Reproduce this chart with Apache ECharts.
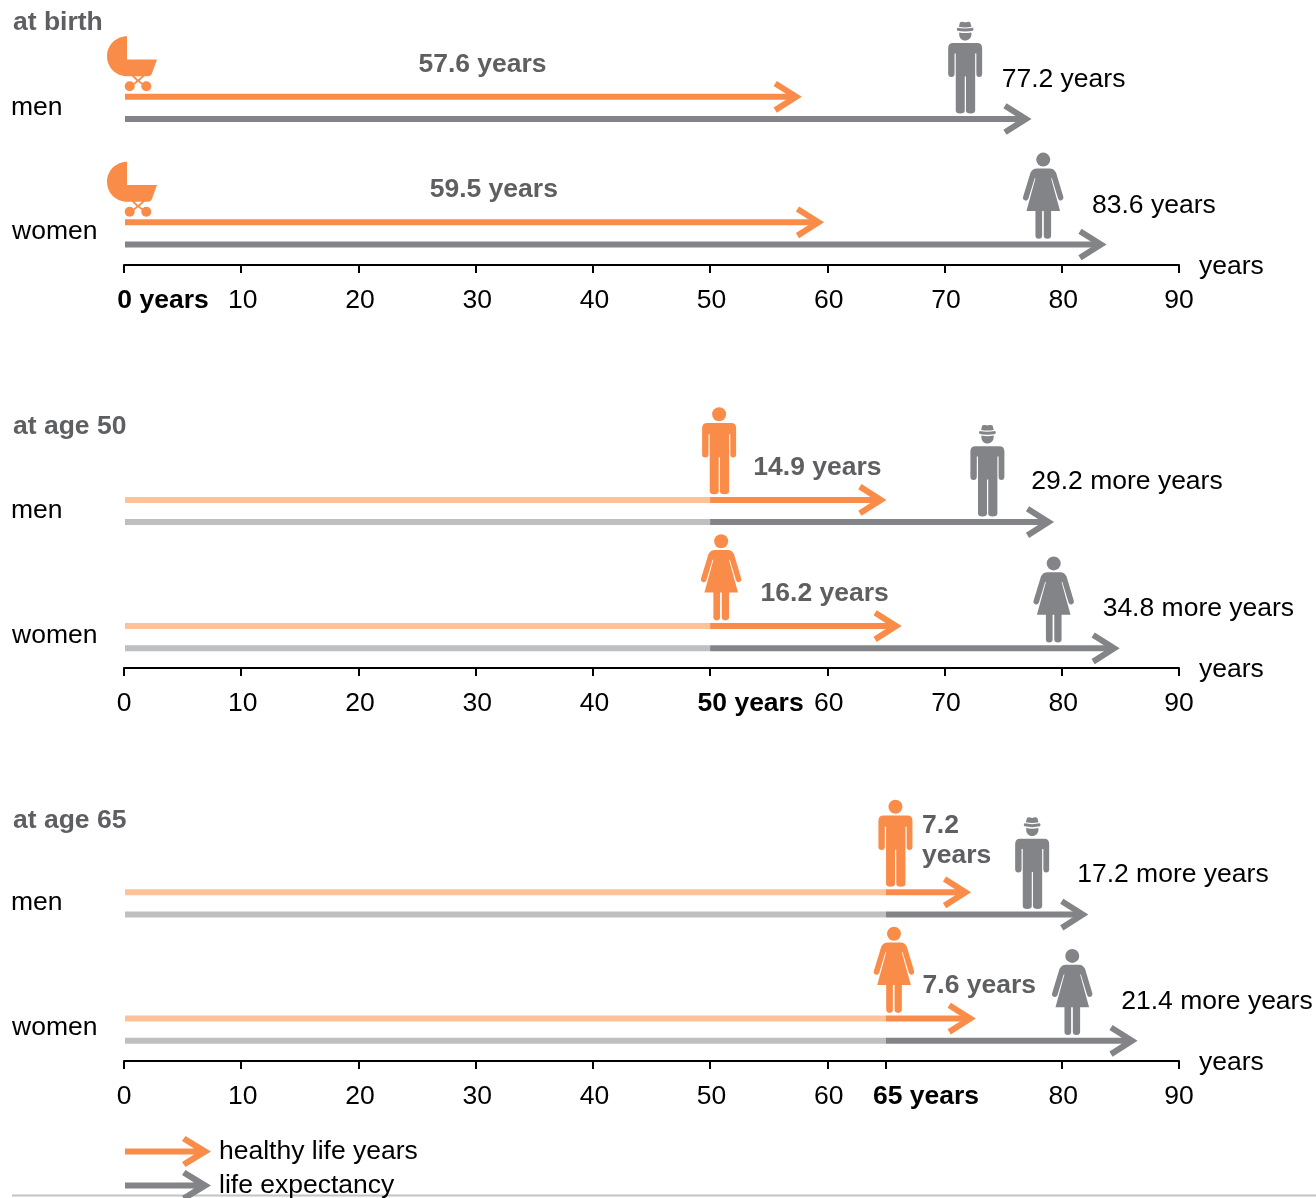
<!DOCTYPE html>
<html>
<head>
<meta charset="utf-8">
<style>html,body{margin:0;padding:0;background:#fff}#c{width:1316px;height:1198px}</style>
<script src="https://cdn.jsdelivr.net/npm/echarts@6/dist/echarts.min.js"></script>
</head>
<body>
<div id="c"></div>
<script>
// ---- data ----
const panelTitles = ['at birth', 'at age 50', 'at age 65'];
const startAges = [0, 50, 65];
const rowNames = ['women', 'men'];
const healthyMen = [57.6, 14.9, 7.2];
const healthyWomen = [59.5, 16.2, 7.6];
const expectancyMen = [77.2, 29.2, 17.2];
const expectancyWomen = [83.6, 34.8, 21.4];
const tickValues = [
  [0, 10, 20, 30, 40, 50, 60, 70, 80, 90],
  [0, 10, 20, 30, 40, 50, 60, 70, 80, 90],
  [0, 10, 20, 30, 40, 50, 60, 65, 80, 90]
];
const axisUnit = 'years';
const legendNames = ['healthy life years', 'life expectancy'];

// ---- style and layout ----
const FONT = '"Liberation Sans", Arial, sans-serif';
const FS = 26.5;
const ORANGE = '#fa8c4a', ORANGE_LIGHT = '#fdc297', GREY = '#838487', GREY_LIGHT = '#bebfc1';
const LABEL_GREY = '#5e5f61', INK = '#000000';
const axisYs = [265, 668, 1061];
const GRID_H = 251, ARROW_OFF = 11.1;
const rowStep = [125.5, 126.2, 126.25], rowBase = [31.6, 30.8, 31.3];
const titleAbove = [255.5, 255, 253.5];
const tipOffset = [2.5, 1.6, 0.7];
const boldPad = [78, 81, 80];
// text offsets from arrow end [dx, dy from row centre], indexed [panel][row]
const healthyText = [[[-391.8, -43.5], [-380.8, -43.5]], [[-139.4, -43.7], [-131.4, -43.3]], [[-52.5, -43.6], [-48.3, -62.7]]];
const lifeText = [[[-12, -28], [-27.3, -28.5]], [[-15.4, -28.7], [-21.2, -29.2]], [[-15.6, -28.2], [-10.4, -28.7]]];
// icon centre offsets: healthy from start of coloured part, life from arrow end
const healthyIconDx = [[8, 8], [11, 9], [8, 9.5]];
const lifeIconDx = [[-60.8, -63.8], [-64.4, -65], [-64.6, -55.4]];

const ICONS = {
  man: {
    w: 34, h: 87, circles: [[17, 7, 7]],
    body: { x: 0, y: 15.7, w: 34, h: 71.3, d: 'M5 15.7L29 15.7Q34 15.7 34 21L34 47.3Q34 50.3 31 50.3Q28.2 50.3 28.2 47.3L28.2 27L27 27L27 84Q27 87 22.4 87Q17.8 87 17.8 84L17.8 50L16.6 50L16.6 84Q16.6 87 12 87Q7.6 87 7.6 84L7.6 27L6.4 27L6.4 47.3Q6.4 50.3 3.2 50.3Q0 50.3 0 47.3L0 21Q0 15.7 5 15.7Z' }
  },
  hatMan: {
    w: 34, h: 92, circles: [],
    body: { x: 0, y: 0, w: 34, h: 92, d: 'M0 0L0.01 0L0 0ZM11.8 1Q13 0 15 0.6Q17 1.3 19 0.6Q21 0 22.2 1L23.3 5.4Q17 6.6 10.7 5.4ZM9.2 6.4Q17 8 24.8 6.4Q26 8 24.8 9.4Q17 11 9.2 9.4Q8 8 9.2 6.4ZM11 11Q17 12.4 23.3 11L23.3 12.5C23.3 16.5 20.5 19 17 19C13.5 19 11 16.5 11 12.5ZM5 21.7L29 21.7Q34 21.7 34 27L34 52Q34 55.5 31 55.5Q28.2 55.5 28.2 52L28.2 32L27 32L27 89Q27 92 22.4 92Q17.8 92 17.8 89L17.8 55L16.6 55L16.6 89Q16.6 92 12 92Q7.6 92 7.6 89L7.6 32L6.4 32L6.4 52Q6.4 55.5 3.2 55.5Q0 55.5 0 52L0 27Q0 21.7 5 21.7Z' }
  },
  woman: {
    w: 40.5, h: 86.3, circles: [[20.3, 7, 7]],
    body: { x: 0, y: 15.7, w: 40.5, h: 70.6, d: 'M14 15.7L26.7 15.7Q31 15.7 33 20L40.2 44Q41 47 38 48Q36 48.5 35 46L28.8 25.5L28 25.5L37 58.3L28 58.3L28 83Q28 86.3 24.3 86.3Q20.7 86.3 20.7 83L20.7 58.3L19 58.3L19 83Q19 86.3 15.6 86.3Q12.3 86.3 12.3 83L12.3 58.3L3.3 58.3L12.3 25.5L11.5 25.5L5.3 46Q4.3 48.5 2 48Q-1 47 0 44L7.3 20Q9.3 15.7 14 15.7Z' }
  },
  pram: {
    w: 50, h: 55, circles: [[22.7, 50, 5], [39.3, 50, 5]],
    body: { x: 0, y: 0, w: 50, h: 50, d: 'M20 0C8.95 0 0 8.95 0 20C0 31.05 8.95 40 20 40L41 40Q44 40 45 37L50 23.3L20 23.3ZM25 40L27.5 40L31 43.2L35 40L37.5 40L32.6 44.5L38 48.5L37 50L31 45.6L25.5 50L24.5 48.5L29.5 44.5Z' }
  }
};
const LEGEND_ARROW = 'path://M0 12.5L69 12.5L57 5L60.5 0L86 15.5L60.5 31L57 26L69 18.5L0 18.5Z';

function arrowRenderer(panel, offset, light, full) {
  return function (params, api) {
    const start = api.value(0), end = api.value(1), row = api.value(2);
    const y = api.coord([0, row])[1] + offset;
    const x0 = api.coord([0, row])[0] + 1;
    const xs = api.coord([start, row])[0];
    const tip = api.coord([end, row])[0] + tipOffset[panel];
    const vertex = tip - 5.5;
    const children = [];
    if (start > 0) {
      children.push({ type: 'line', shape: { x1: x0, y1: y, x2: xs, y2: y }, style: { stroke: light, lineWidth: 6, fill: null } });
    }
    children.push({ type: 'line', shape: { x1: start > 0 ? xs : x0, y1: y, x2: vertex, y2: y }, style: { stroke: full, lineWidth: 6, fill: null } });
    children.push({
      type: 'polyline',
      shape: { points: [[vertex - 21, y - 13.3], [vertex, y], [vertex - 21, y + 13.3]] },
      style: { stroke: full, lineWidth: 6, fill: null, lineJoin: 'miter', miterLimit: 10 }
    });
    return { type: 'group', children: children, silent: true };
  };
}

function iconEls(name, cx, bottom, color) {
  const ic = ICONS[name];
  const left = cx - ic.w / 2, top = bottom - ic.h;
  const els = ic.circles.map(function (c) {
    return { type: 'circle', shape: { cx: left + c[0], cy: top + c[1], r: c[2] }, style: { fill: color } };
  });
  const b = ic.body;
  els.push({ type: 'path', shape: { pathData: b.d, x: left + b.x, y: top + b.y, width: b.w, height: b.h }, style: { fill: color } });
  return els;
}

function decorationRenderer(panel, isHealthy) {
  return function (params, api) {
    const start = api.value(0), end = api.value(1), row = api.value(2), val = end - start;
    const c = api.coord([end, row]);
    const s = api.coord([start, row]);
    const arrowY = c[1] + (isHealthy ? -ARROW_OFF : ARROW_OFF);
    let name, cx, color;
    if (isHealthy) {
      name = panel === 0 ? 'pram' : (row === 1 ? 'man' : 'woman');
      cx = s[0] + healthyIconDx[panel][row];
      color = ORANGE;
    } else {
      name = row === 1 ? 'hatMan' : 'woman';
      cx = c[0] + lifeIconDx[panel][row];
      color = GREY;
    }
    const children = iconEls(name, cx, arrowY - 5.6, color);
    const off = (isHealthy ? healthyText : lifeText)[panel][row];
    let txt = val.toFixed(1) + (!isHealthy && panel > 0 ? ' more years' : ' years');
    if (isHealthy && panel === 2 && row === 1) txt = val.toFixed(1) + '\nyears';
    children.push({
      type: 'text', silent: true,
      style: {
        text: txt, x: c[0] + off[0], y: c[1] + off[1], align: 'left', verticalAlign: 'middle',
        fill: isHealthy ? LABEL_GREY : INK, font: (isHealthy ? 'bold ' : '') + FS + 'px ' + FONT, lineHeight: 30
      }
    });
    return { type: 'group', children: children, silent: true };
  };
}

const grids = [], xAxes = [], yAxes = [], titles = [], series = [];
panelTitles.forEach(function (title, p) {
  const start = startAges[p];
  grids.push({ left: 124, width: 1055, top: axisYs[p] - GRID_H, height: GRID_H });
  titles.push({
    text: title, left: 13, top: axisYs[p] - titleAbove[p], padding: 0,
    textStyle: { fontFamily: FONT, fontSize: FS, fontWeight: 'bold', color: LABEL_GREY }
  });
  xAxes.push({
    type: 'value', gridIndex: p, min: 0, max: 90, interval: 10, position: 'bottom',
    name: axisUnit, nameLocation: 'end', nameGap: 20, nameMoveOverlap: false,
    nameTextStyle: { fontFamily: FONT, fontSize: FS, color: INK, verticalAlign: 'top', lineHeight: 4 },
    axisLine: { show: true, onZero: false, lineStyle: { color: '#000', width: 2 } },
    axisTick: { show: true, length: 8, lineStyle: { color: '#000', width: 2 }, customValues: tickValues[p] },
    splitLine: { show: false },
    axisLabel: {
      customValues: tickValues[p], margin: 22.5, color: INK, fontFamily: FONT, fontSize: FS,
      formatter: function (v) {
        if (v === start) return '{b|' + v + ' years}';
        return (v === 0 || v === 90) ? String(v) : '{n|' + v + '}';
      },
      rich: {
        b: { fontFamily: FONT, fontSize: FS, fontWeight: 'bold', color: INK, padding: [0, 0, 0, boldPad[p]] },
        n: { fontFamily: FONT, fontSize: FS, color: INK, padding: [0, 0, 0, 3] }
      }
    }
  });
  yAxes.push({
    type: 'value', gridIndex: p,
    min: -rowBase[p] / rowStep[p], max: (GRID_H - rowBase[p]) / rowStep[p],
    axisLine: { show: false }, axisTick: { show: false }, splitLine: { show: false },
    axisLabel: {
      customValues: [0, 1], align: 'left', margin: 113, color: INK, fontFamily: FONT,
      formatter: function (v) { return v === 0 ? '{w|' + rowNames[0] + '}' : '{m|' + rowNames[1] + '}'; },
      rich: {
        w: { fontFamily: FONT, fontSize: FS, color: INK, padding: [0, 0, 4, 1] },
        m: { fontFamily: FONT, fontSize: FS, color: INK, padding: [0, 0, 1, 0] }
      }
    }
  });
  const healthyData = [[start, start + healthyWomen[p], 0], [start, start + healthyMen[p], 1]];
  const lifeData = [[start, start + expectancyWomen[p], 0], [start, start + expectancyMen[p], 1]];
  const base = { type: 'custom', coordinateSystem: 'cartesian2d', xAxisIndex: p, yAxisIndex: p, silent: true, encode: { x: [0, 1], y: 2 } };
  series.push(Object.assign({}, base, { name: legendNames[0], data: healthyData, itemStyle: { color: ORANGE }, renderItem: arrowRenderer(p, -ARROW_OFF, ORANGE_LIGHT, ORANGE) }));
  series.push(Object.assign({}, base, { name: legendNames[1], data: lifeData, itemStyle: { color: GREY }, renderItem: arrowRenderer(p, ARROW_OFF, GREY_LIGHT, GREY) }));
  series.push(Object.assign({}, base, { name: 'healthy labels', data: healthyData, renderItem: decorationRenderer(p, true) }));
  series.push(Object.assign({}, base, { name: 'life labels', data: lifeData, renderItem: decorationRenderer(p, false) }));
});

const chart = echarts.init(document.getElementById('c'), null, { renderer: 'canvas', width: 1316, height: 1198 });
chart.setOption({
  animation: false,
  backgroundColor: '#fff',
  title: titles,
  grid: grids,
  xAxis: xAxes,
  yAxis: yAxes,
  tooltip: { show: false },
  legend: {
    data: legendNames.map(function (n) { return { name: n, icon: LEGEND_ARROW }; }),
    orient: 'vertical', left: 125, top: 1136, height: 80, padding: 0,
    itemWidth: 86, itemHeight: 31, itemGap: 3, selectedMode: false, symbolKeepAspect: false,
    itemStyle: { borderWidth: 0 },
    textStyle: { fontFamily: FONT, fontSize: FS, color: INK, padding: [0, 0, 4, 3] }
  },
  graphic: [{ type: 'line', silent: true, shape: { x1: 12, y1: 1195.5, x2: 1316, y2: 1195.5 }, style: { stroke: '#c4c4c4', lineWidth: 2 } }],
  series: series
});
</script>
</body>
</html>
